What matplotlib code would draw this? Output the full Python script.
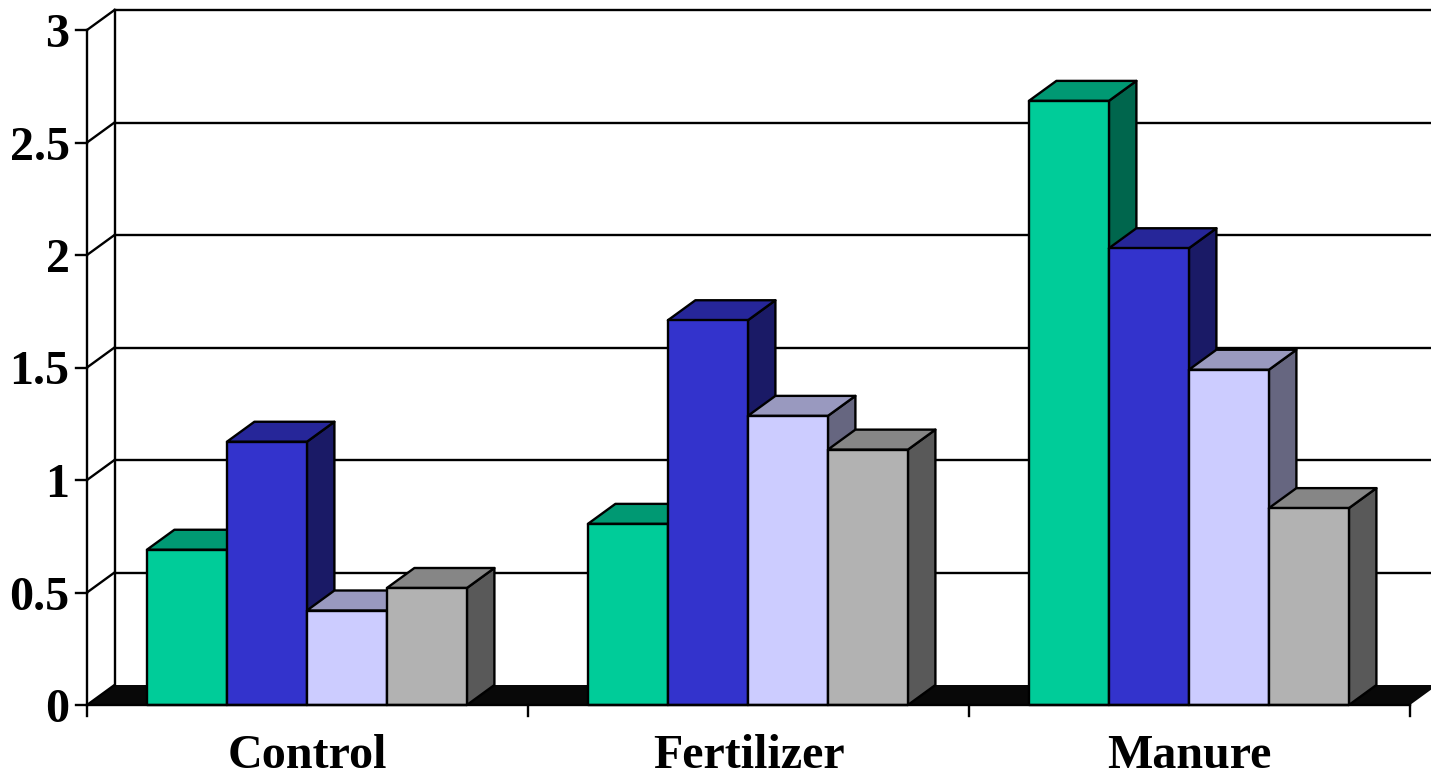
import matplotlib
matplotlib.use('Agg')
import matplotlib.pyplot as plt
from matplotlib.patches import Polygon

categories = ['Control', 'Fertilizer', 'Manure']
series_a = [0.69, 0.805, 2.685]
series_b = [1.17, 1.71, 2.03]
series_c = [0.42, 1.285, 1.49]
series_d = [0.52, 1.135, 0.875]
y_ticks = [0, 0.5, 1, 1.5, 2, 2.5, 3]
y_labels = ['0', '0.5', '1', '1.5', '2', '2.5', '3']

# front, top, side
colors = [('#00CC99', '#009973', '#00664D'),
          ('#3333CC', '#262699', '#1A1A66'),
          ('#CCCCFF', '#9999BF', '#666680'),
          ('#B2B2B2', '#868686', '#595959')]

plt.rcParams['font.family'] = ['Liberation Serif', 'DejaVu Serif']
plt.rcParams['font.weight'] = 'bold'

W, H = 1431, 774
x0_px, y0_px = 87.0, 705.0
cat_px, unit_px = 441.0, 225.0
depth_x = 27.5 / cat_px
depth_y = 20.0 / unit_px
bar_w = 80.0 / cat_px
lw = 1.7

fig = plt.figure(figsize=(W / 100, H / 100), dpi=100)
ax = fig.add_axes([0, 0, 1, 1])
ax.set_xlim(-x0_px / cat_px, (W - x0_px) / cat_px)
ax.set_ylim(-(H - y0_px) / unit_px, y0_px / unit_px)
ax.axis('off')

n = len(categories)
x_end = n + 0.0

# floor
ax.add_patch(Polygon([(0, 0), (depth_x, depth_y), (x_end + depth_x, depth_y), (x_end, 0)],
                     facecolor='#080808', edgecolor='none', zorder=1))

# back wall gridlines and left wall
for v, lab in zip(y_ticks, y_labels):
    if v > 0:
        ax.plot([depth_x, x_end + depth_x], [v + depth_y, v + depth_y], color='black', lw=lw, zorder=1)
    ax.plot([0, depth_x], [v, v + depth_y], color='black', lw=lw, zorder=1)
    ax.plot([-11 / cat_px, 0], [v, v], color='black', lw=lw, zorder=1)
    ax.text(-17.5 / cat_px, v, lab, ha='right', va='center_baseline',
            fontsize=34.6, fontweight='bold', zorder=5)
ax.plot([depth_x, depth_x], [depth_y, 3 + depth_y], color='black', lw=lw, zorder=1)
ax.plot([0, 0], [0, 3], color='black', lw=lw, zorder=1)

# bars, left to right so each front covers the previous side
all_series = [series_a, series_b, series_c, series_d]
for i in range(n):
    start = i + 0.5 - 2 * bar_w - 0.6 / cat_px
    for j, vals in enumerate(all_series):
        v = vals[i]
        x = start + j * bar_w
        front, top, side = colors[j]
        z = 2 + i + j * 0.1
        ax.add_patch(Polygon([(x + bar_w, 0), (x + bar_w + depth_x, depth_y),
                              (x + bar_w + depth_x, v + depth_y), (x + bar_w, v)],
                             facecolor=side, edgecolor='black', lw=lw, zorder=z, joinstyle='round'))
        ax.add_patch(Polygon([(x, v), (x + depth_x, v + depth_y),
                              (x + bar_w + depth_x, v + depth_y), (x + bar_w, v)],
                             facecolor=top, edgecolor='black', lw=lw, zorder=z, joinstyle='round'))
        ax.add_patch(Polygon([(x, 0), (x, v), (x + bar_w, v), (x + bar_w, 0)],
                             facecolor=front, edgecolor='black', lw=lw, zorder=z + 0.01, joinstyle='round'))

# x axis and tick marks
ax.plot([0, x_end], [0, 0], color='black', lw=lw, zorder=10)
for i in range(n + 1):
    ax.plot([i, i], [0, -11 / unit_px], color='black', lw=lw, zorder=10)
for i, name in enumerate(categories):
    ax.text(i + 0.5, -63 / unit_px, name, ha='center', va='baseline',
            fontsize=34.6, fontweight='bold', zorder=10)

fig.savefig('out.png', dpi=100)
